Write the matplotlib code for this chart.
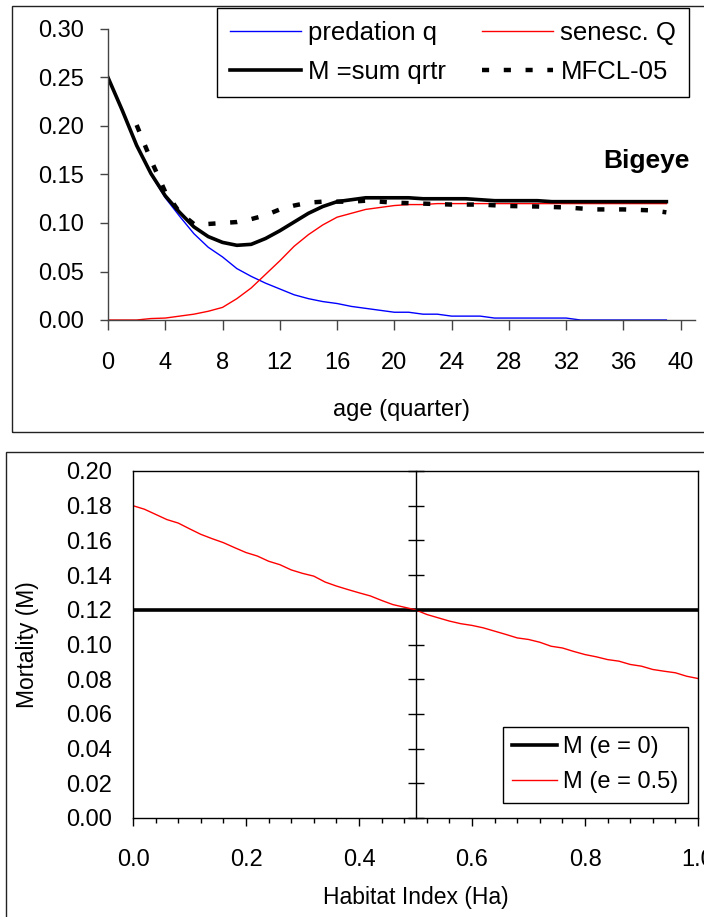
import numpy as np
import matplotlib
matplotlib.use('Agg')
import matplotlib.pyplot as plt
from matplotlib.patches import Rectangle
from matplotlib.ticker import MultipleLocator, FormatStrFormatter

plt.rcParams['font.family'] = ['Liberation Sans', 'DejaVu Sans']

# top panel: mortality by age (quarter)
age = list(range(40))
predation_q = [0.250, 0.216, 0.180, 0.150, 0.126, 0.107, 0.089, 0.075, 0.065, 0.053,
               0.045, 0.038, 0.032, 0.026, 0.022, 0.019, 0.017, 0.014, 0.012, 0.010,
               0.008, 0.008, 0.006, 0.006, 0.004, 0.004, 0.004, 0.002, 0.002, 0.002,
               0.002, 0.002, 0.002, 0.000, 0.000, 0.000, 0.000, 0.000, 0.000, 0.000]
senesc_Q = [0.000, 0.000, 0.000, 0.0015, 0.002, 0.004, 0.006, 0.009, 0.013, 0.022,
            0.033, 0.047, 0.061, 0.076, 0.088, 0.098, 0.106, 0.110, 0.114, 0.116,
            0.118, 0.119, 0.119, 0.120, 0.120, 0.120, 0.120, 0.120, 0.120, 0.120,
            0.120, 0.120, 0.120, 0.120, 0.120, 0.120, 0.120, 0.120, 0.120, 0.120]
M_sum = [0.250, 0.216, 0.180, 0.151, 0.128, 0.111, 0.096, 0.086, 0.080, 0.077,
         0.078, 0.084, 0.092, 0.101, 0.110, 0.117, 0.122, 0.124, 0.126, 0.126,
         0.126, 0.126, 0.125, 0.125, 0.125, 0.125, 0.124, 0.123, 0.123, 0.123,
         0.123, 0.122, 0.122, 0.122, 0.122, 0.122, 0.122, 0.122, 0.122, 0.122]
mfcl_age = [2, 3, 4, 5, 6, 7, 8, 9, 10, 11, 12, 13, 14, 15, 16, 17, 18, 19, 20,
            22, 24, 26, 28, 30, 32, 34, 36, 38, 39]
mfcl_05 = [0.201, 0.165, 0.132, 0.111, 0.099, 0.099, 0.100, 0.101, 0.104, 0.108,
           0.114, 0.118, 0.121, 0.122, 0.122, 0.122, 0.123, 0.122, 0.121,
           0.120, 0.119, 0.119, 0.1175, 0.117, 0.116, 0.114, 0.114, 0.113, 0.111]

# bottom panel: mortality vs habitat index
ha = [round(0.02 * i, 2) for i in range(51)]
m_e0 = [0.12] * 51
m_e05 = [0.180, 0.178, 0.175, 0.172, 0.170, 0.1667, 0.1635, 0.161, 0.1587, 0.1558,
         0.153, 0.151, 0.148, 0.146, 0.143, 0.141, 0.1394, 0.136, 0.1337, 0.1317,
         0.1298, 0.128, 0.1254, 0.123, 0.1215, 0.120, 0.1173, 0.1154, 0.1135, 0.112,
         0.111, 0.1096, 0.1077, 0.1058, 0.1038, 0.1029, 0.1013, 0.099, 0.098, 0.096,
         0.0942, 0.0929, 0.0913, 0.0904, 0.0885, 0.0875, 0.0856, 0.0846, 0.0837, 0.0817,
         0.0804]

W, H = 704, 917
fig = plt.figure(figsize=(W / 100, H / 100), dpi=100)

# panel frames
fig.patches.append(Rectangle((12 / W, 1 - 432 / H), 1.0, 426 / H, transform=fig.transFigure,
                             fill=False, ec='#222222', lw=1.0))
fig.patches.append(Rectangle((6 / W, -0.1), 1.0, 1 - 452 / H + 0.1, transform=fig.transFigure,
                             fill=False, ec='#222222', lw=1.0))

# ---------- top panel ----------
ax1 = fig.add_axes([108 / W, 1 - 320 / H, (695 - 108) / W, (320 - 29) / H])
l_q, = ax1.plot(age, predation_q, color='#0000ff', lw=1.0)
l_Q, = ax1.plot(age, senesc_Q, color='#ff0000', lw=1.0)
l_M, = ax1.plot(age, M_sum, color='black', lw=2.6, solid_joinstyle='round')
l_mf, = ax1.plot(mfcl_age, mfcl_05, color='black', lw=3.2, dashes=(1.6, 3.3),
                 dash_capstyle='butt')
ax1.set_xlim(0, 41)
ax1.set_ylim(0, 0.30)
ax1.set_xticks(range(0, 41, 4))
ax1.yaxis.set_major_locator(MultipleLocator(0.05))
ax1.yaxis.set_major_formatter(FormatStrFormatter('%.2f'))
for s in ['top', 'right']:
    ax1.spines[s].set_visible(False)
for s in ['left', 'bottom']:
    ax1.spines[s].set_color('#444444')
    ax1.spines[s].set_linewidth(1.0)
ax1.tick_params(axis='y', direction='out', length=6, width=1, color='#444444',
                labelsize=17, pad=11)
ax1.tick_params(axis='x', direction='out', length=7, width=1, color='#444444',
                labelsize=17, pad=16)
ax1.set_xlabel('age (quarter)', fontsize=17, va='center')
ax1.xaxis.set_label_coords(0.5, -0.31)
ax1.text(40.6, 0.1636, 'Bigeye', fontsize=19, fontweight='bold', ha='right', va='center')
# legend fills column-wise, so order gives rows: q | Q, then M | MFCL
leg1 = ax1.legend([l_q, l_M, l_Q, l_mf],
                  ['predation q', 'M =sum qrtr', 'senesc. Q', 'MFCL-05'],
                  ncol=2, loc='upper left', bbox_to_anchor=(217 / W, 1 - 8 / H),
                  bbox_transform=fig.transFigure, borderaxespad=0, fontsize=18.5,
                  frameon=True, fancybox=False, edgecolor='black', framealpha=1,
                  handlelength=2.75, handletextpad=0.3, columnspacing=1.4,
                  labelspacing=0.6, borderpad=0.5)
leg1.get_frame().set_linewidth(1.0)

# ---------- bottom panel ----------
ax2 = fig.add_axes([133 / W, 1 - 818 / H, 565 / W, (818 - 471) / H])
l_e0, = ax2.plot(ha, m_e0, color='black', lw=2.6)
l_e05, = ax2.plot(ha, m_e05, color='#ff0000', lw=1.0)
ax2.set_xlim(0, 1)
ax2.set_ylim(0, 0.20)
ax2.xaxis.set_major_locator(MultipleLocator(0.2))
ax2.xaxis.set_minor_locator(MultipleLocator(0.04))
ax2.xaxis.set_major_formatter(FormatStrFormatter('%.1f'))
ax2.yaxis.set_major_locator(MultipleLocator(0.02))
ax2.yaxis.set_major_formatter(FormatStrFormatter('%.2f'))
for s in ax2.spines.values():
    s.set_color('black')
    s.set_linewidth(1.0)
ax2.tick_params(axis='y', length=0, labelsize=17, pad=15)
ax2.tick_params(axis='x', which='major', direction='out', length=6, width=1,
                labelsize=17, pad=16)
ax2.tick_params(axis='x', which='minor', direction='out', length=3.5, width=1)
ax2.set_xlabel('Habitat Index (Ha)', fontsize=16.5, va='center')
ax2.xaxis.set_label_coords(0.5, -0.23)
ax2.set_ylabel('Mortality (M)', fontsize=16.5, va='center')
ax2.yaxis.set_label_coords(-0.1876, 0.5)

# value axis crossing at Ha = 0.5
ax2c = ax2.twinx()
ax2c.set_ylim(ax2.get_ylim())
ax2c.yaxis.set_major_locator(MultipleLocator(0.02))
ax2c.spines['right'].set_position(('axes', 0.5))
for s in ['left', 'top', 'bottom']:
    ax2c.spines[s].set_visible(False)
ax2c.spines['right'].set_color('black')
ax2c.spines['right'].set_linewidth(1.0)
ax2c.tick_params(axis='y', direction='inout', length=12, width=1, labelright=False)

leg2 = ax2c.legend([l_e0, l_e05], ['M (e = 0)', 'M (e = 0.5)'],
                   loc='upper left', bbox_to_anchor=(503 / W, 1 - 727 / H),
                   bbox_transform=fig.transFigure, borderaxespad=0, fontsize=17,
                   frameon=True, fancybox=False, edgecolor='black', framealpha=1,
                   handlelength=1.9, handletextpad=0.25, labelspacing=0.55, borderpad=0.4)
leg2.get_frame().set_linewidth(1.0)

fig.savefig('out.png', dpi=100)
